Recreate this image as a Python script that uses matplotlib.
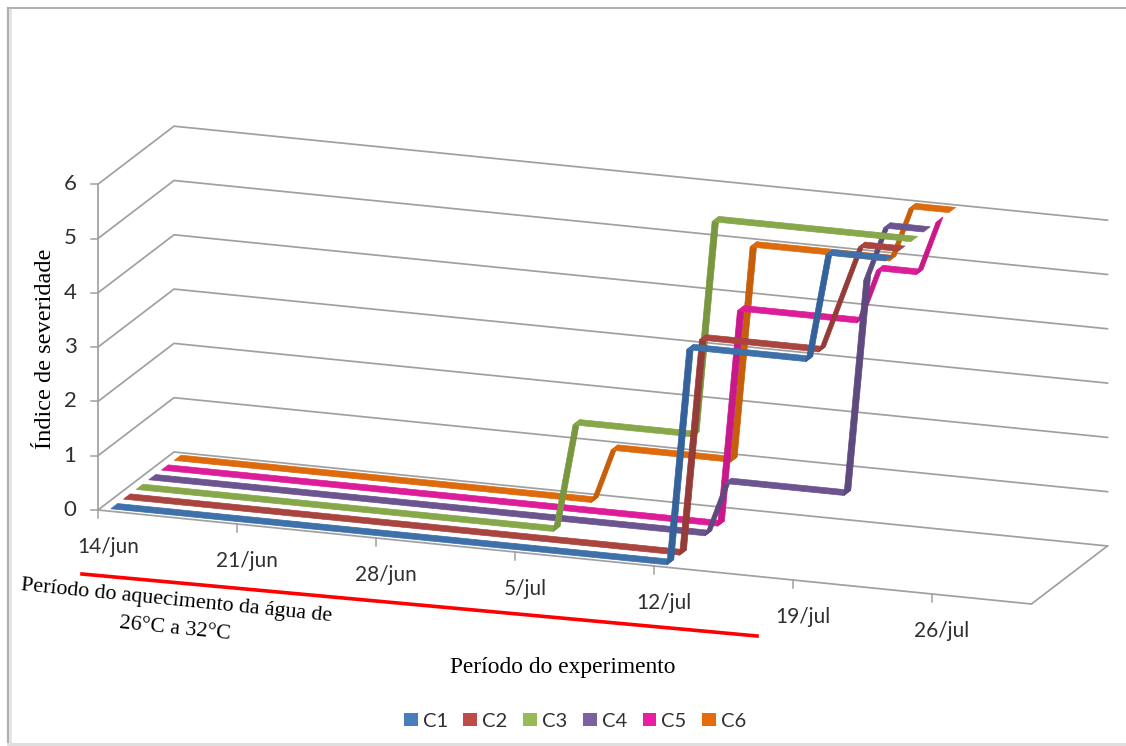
import matplotlib
matplotlib.use("Agg")
import matplotlib.pyplot as plt
from matplotlib.patches import Patch

# daily severity index from 14/jun, one list per tank
C1 = [0]*29 + [4]*7 + [6]*4
C2 = [0]*29 + [4]*7 + [5, 6, 6, 6]
C3 = [0]*22 + [2]*7 + [6]*11
C4 = [0]*29 + [1]*7 + [5, 6, 6, 6]
C5 = [0]*29 + [4]*7 + [5, 5, 5, 6]
C6 = [0]*22 + [1]*7 + [5]*8 + [6]*3

SERIES = [C1, C2, C3, C4, C5, C6]
NAMES = ["C1", "C2", "C3", "C4", "C5", "C6"]
COLORS = ["#3E70A9", "#A9443F", "#86A84A", "#6C5490", "#DC1C98", "#DD6A0C"]
DARK = ["#35629A", "#963C38", "#78973F", "#5F4A80", "#C8188A", "#C65E0A"]
LEG_COLORS = ["#4A7EBB", "#BE4B48", "#98B954", "#7D60A0", "#E71FA0", "#E46C0A"]

Y_TICKS = [0, 1, 2, 3, 4, 5, 6]
DATE_DAYS = [0, 7, 14, 21, 28, 35, 42]
DATE_LABELS = ["14/jun", "21/jun", "28/jun", "5/jul", "12/jul", "19/jul", "26/jul"]

N_DAYS = 47
GRID = "#A0A0A0"
TXT = "#303030"
SERIF = "Liberation Serif"
SANS = "Lato"


def project(day, val, depth):
    # oblique projection of (day, value, series depth) on the page
    x = 98 + 19.86*day + 12.67*depth
    y = 510 + 2.0*day - 54.3*val - 9.67*depth
    return x, y


plt.rcParams['font.family'] = [SANS, 'DejaVu Sans']
fig = plt.figure(figsize=(11.26, 7.46), dpi=100)
ax = fig.add_axes([0, 0, 1, 1])
ax.set_xlim(0, 1126)
ax.set_ylim(746, 0)
ax.axis('off')

# outer frame of the chart area
ax.plot([8, 8], [8, 742], color="#B0B0B0", lw=1.6)
ax.plot([9.5, 9.5], [9, 742], color="#E4E4E4", lw=2)
ax.plot([8, 1126], [8, 8], color="#B0B0B0", lw=1.4)
ax.plot([8, 1126], [743.5, 743.5], color="#DDDDDD", lw=2)

# walls and floor
for v in Y_TICKS:
    x0, y0 = project(0, v, 0)
    x1, y1 = project(0, v, 6)
    x2, y2 = project(N_DAYS, v, 6)
    ax.plot([x0, x1, x2], [y0, y1, y2], color=GRID, lw=1.25, solid_joinstyle='miter')
    ax.plot([x0-7, x0], [y0, y0], color=GRID, lw=1.1)
    ax.text(x0-28, y0, str(v), ha='center', va='center', fontsize=16, color=TXT)
x0, y0 = project(0, 0, 0)
x1, y1 = project(0, 6, 0)
ax.plot([x0, x1], [y0, y1], color=GRID, lw=1.25)
fx, fy = project(N_DAYS, 0, 0)
bx, by = project(N_DAYS, 0, 6)
ax.plot([x0, fx, bx], [y0, fy, by], color=GRID, lw=1.25, solid_joinstyle='miter')

for d, lab in zip(DATE_DAYS, DATE_LABELS):
    tx, ty = project(d, 0, 0)
    ax.plot([tx, tx], [ty, ty+8], color=GRID, lw=1.1)
    ax.text(tx+10, ty+37, lab, ha='center', va='center', fontsize=15, color=TXT)

# series as flat ribbons, back to front
for k in range(5, -1, -1):
    vals = SERIES[k]
    d0 = k + 0.23
    d1 = k + 0.77
    for i in range(len(vals)-1):
        a = project(i+0.5, vals[i], d0)
        b = project(i+1.5, vals[i+1], d0)
        c = project(i+1.5, vals[i+1], d1)
        e = project(i+0.5, vals[i], d1)
        col = COLORS[k] if vals[i] == vals[i+1] else DARK[k]
        ax.fill([a[0], b[0], c[0], e[0]], [a[1], b[1], c[1], e[1]],
                color=col, lw=0.5, joinstyle='round', zorder=3)

ax.plot([82, 757], [574, 636], color="#FF0000", lw=2.6, zorder=4)

ax.text(176.5, 601, u"Período do aquecimento da água de", family=SERIF, fontsize=15.8, color="black",
        rotation=-5.7, rotation_mode='anchor', ha='center', va='center')
ax.text(175, 629, u"26°C a 32°C", family=SERIF, fontsize=15.8, color="black",
        rotation=-5.7, rotation_mode='anchor', ha='center', va='center')
ax.text(563, 667, u"Período do experimento", family=SERIF, fontsize=16.8, color="black",
        ha='center', va='center')
ax.text(46, 349, u"Índice de severidade", family=SERIF, fontsize=17.6, color="black",
        rotation=90, ha='center', va='center')

handles = [Patch(facecolor=c, edgecolor='none', label=n) for c, n in zip(LEG_COLORS, NAMES)]
ax.legend(handles=handles, ncol=6, frameon=False, loc='center', bbox_to_anchor=(0.5107, 0.0335),
          fontsize=14.5, handlelength=0.68, handleheight=0.68, handletextpad=0.25,
          columnspacing=0.78, labelcolor=TXT)

fig.savefig('out.png', dpi=100)
